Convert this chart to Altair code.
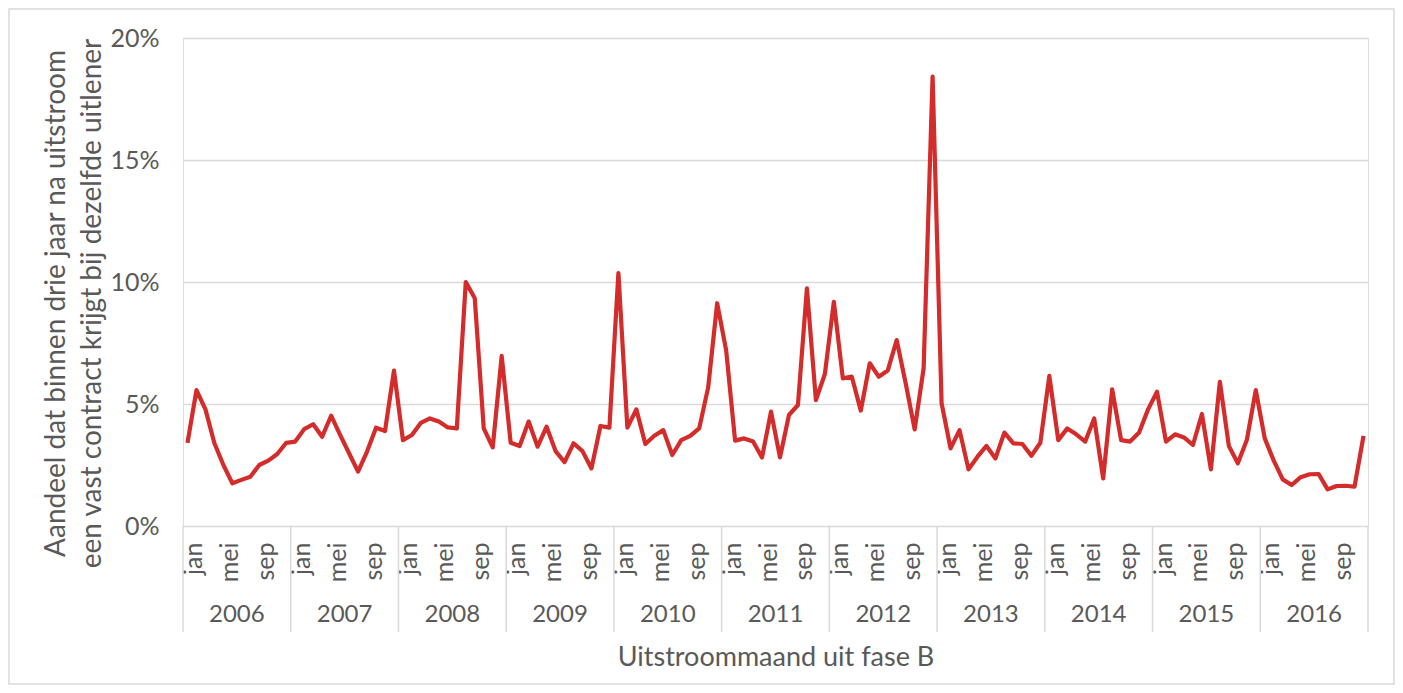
import altair as alt
import pandas as pd

YEARS = [str(y) for y in range(2006, 2017)]
MONTHS = ["jan", "feb", "mrt", "apr", "mei", "jun", "jul", "aug", "sep", "okt", "nov", "dec"]
SHOWN_MONTHS = ["jan", "mei", "sep"]

# share (%) per month, Jan 2006 .. Dec 2016
VALUES = [
    3.41, 5.57, 4.78, 3.39, 2.50, 1.75, 1.89, 2.02, 2.50, 2.68, 2.95, 3.41,   # 2006
    3.46, 3.97, 4.17, 3.66, 4.52, 3.73, 2.98, 2.23, 3.05, 4.03, 3.89, 6.37,   # 2007
    3.52, 3.73, 4.23, 4.41, 4.28, 4.04, 4.00, 10.00, 9.33, 4.00, 3.22, 6.97,  # 2008
    3.41, 3.28, 4.28, 3.25, 4.07, 3.07, 2.62, 3.39, 3.07, 2.36, 4.10, 4.03,   # 2009
    10.36, 4.03, 4.78, 3.36, 3.70, 3.93, 2.91, 3.52, 3.69, 4.00, 5.68, 9.13,  # 2010
    7.21, 3.50, 3.59, 3.46, 2.81, 4.69, 2.81, 4.55, 4.96, 9.74, 5.16, 6.23,   # 2011
    9.19, 6.05, 6.12, 4.73, 6.67, 6.12, 6.37, 7.62, 5.85, 3.96, 6.46, 18.42,  # 2012
    5.03, 3.18, 3.93, 2.32, 2.84, 3.28, 2.77, 3.83, 3.39, 3.36, 2.88, 3.41,   # 2013
    6.15, 3.52, 4.00, 3.76, 3.46, 4.41, 1.95, 5.60, 3.52, 3.46, 3.83, 4.78,   # 2014
    5.50, 3.46, 3.76, 3.63, 3.32, 4.59, 2.32, 5.91, 3.28, 2.57, 3.52, 5.57,   # 2015
    3.59, 2.68, 1.91, 1.68, 2.00, 2.12, 2.13, 1.50, 1.64, 1.65, 1.61, 3.69,   # 2016
]

Y_TITLE = ["Aandeel dat binnen drie jaar na uitstroom",
           "een vast contract krijgt bij dezelfde uitlener"]
X_TITLE = "Uitstroommaand uit fase B"

W, H = 1185, 488
PAD_L, PAD_T, PAD_R, PAD_B = 175, 30, 27, 159
FONT = "Lato"
GRAY = "#595959"
GRID = "#d9d9d9"
RED = "#d42b2b"

n = len(VALUES)
df = pd.DataFrame({
    "idx": list(range(n)),
    "value": [v / 100 for v in VALUES],
})
years_df = pd.DataFrame({"year": YEARS, "center": [12 * i + 5.5 for i in range(len(YEARS))]})
bounds_df = pd.DataFrame({"b": [12 * i - 0.5 for i in range(len(YEARS) + 1)]})

tick_vals = [i for i in range(n) if MONTHS[i % 12] in SHOWN_MONTHS]
month_arr = "[" + ",".join("'%s'" % m for m in MONTHS) + "]"

xscale = alt.Scale(domain=[-0.5, n - 0.5], nice=False, zero=False)

line = alt.Chart(df).mark_line(color=RED, strokeWidth=4.2, strokeJoin="round").encode(
    x=alt.X("idx:Q", scale=xscale, axis=alt.Axis(
        values=tick_vals, labelExpr=month_arr + "[datum.value % 12]",
        labelAngle=-90, labelAlign="right", labelBaseline="middle",
        labelPadding=16, labelOffset=6, labelFontSize=25, labelColor=GRAY, labelFont=FONT,
        labelOverlap=False, labelBound=False, labelFlush=False,
        ticks=False, domain=False, grid=False,
        title=X_TITLE, titleFont=FONT, titleFontSize=27, titleFontWeight="normal",
        titleColor=GRAY, titleY=131, titleBaseline="middle")),
    y=alt.Y("value:Q", scale=alt.Scale(domain=[0, 0.2], nice=False), axis=alt.Axis(
        values=[0, 0.05, 0.1, 0.15, 0.2], format=".0%",
        labelFontSize=25, labelColor=GRAY, labelFont=FONT, labelPadding=24,
        ticks=False, domain=False, grid=True, gridColor=GRID, gridWidth=1.5,
        title=Y_TITLE, titleFont=FONT, titleFontSize=28, titleFontWeight="normal",
        titleColor=GRAY, titleX=-113, titleY=265, titleBaseline="bottom",
        titleAlign="center", titleAngle=-90, titleLineHeight=36)),
)

seps = alt.Chart(bounds_df).mark_rule(color=GRID, strokeWidth=1.5).encode(
    x=alt.X("b:Q", scale=xscale, axis=None),
    y=alt.value(H), y2=alt.value(H + 106),
)

year_txt = alt.Chart(years_df).mark_text(
    font=FONT, fontSize=24, color=GRAY, baseline="middle", align="center"
).encode(
    x=alt.X("center:Q", scale=xscale, axis=None),
    y=alt.value(H + 89),
    text="year:N",
)

frame = alt.Chart(years_df.head(1)).mark_rect(
    fill=None, stroke=GRID, strokeWidth=1.5
).encode(
    x=alt.value(-PAD_L + 1), x2=alt.value(W + PAD_R - 1),
    y=alt.value(-PAD_T + 1), y2=alt.value(H + PAD_B - 1),
)

chart = alt.layer(line, frame, seps, year_txt).resolve_axis(x="independent").properties(
    width=W, height=H,
    autosize=alt.AutoSizeParams(type="none"),
    padding={"left": PAD_L, "top": PAD_T, "right": PAD_R, "bottom": PAD_B},
).configure_view(stroke=None).configure(background="white")

chart.save("out.html", embed_options={"renderer": "svg", "actions": False})
